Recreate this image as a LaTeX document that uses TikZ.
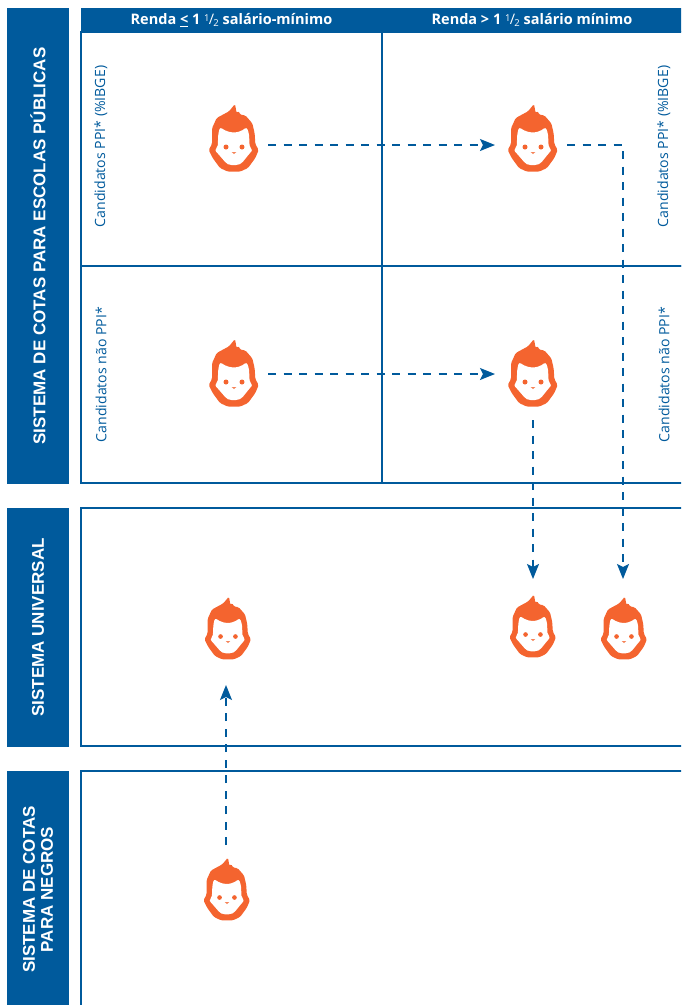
\documentclass[tikz,border=0pt]{standalone}
\usepackage{fontspec}
\setmainfont{Open Sans}
\newfontfamily\sidefont{Liberation Sans}
\usetikzlibrary{positioning,arrows.meta}
\definecolor{cotablue}{HTML}{005A9C}
\definecolor{faceorange}{HTML}{F4642F}
\tikzset{sidebar/.style={fill=cotablue,draw=none,outer sep=0pt,inner sep=0pt,minimum height=62pt,text=white,rotate=90,align=center},
	 headbar/.style={fill=cotablue,draw=none,outer sep=0pt,inner sep=0pt,minimum height=24pt,text=white},
	 cell/.style={draw=cotablue,line width=1.4pt,outer sep=0pt,inner sep=0pt},
	 sidetext/.style={text=cotablue,rotate=90,inner sep=0pt,font=\fontsize{14.1}{15}\selectfont},
	 facebox/.style={inner sep=0pt,outer sep=0pt,minimum width=68pt,minimum height=92pt},
	 flow/.style={cotablue,line width=1.3pt,dash pattern=on 8pt off 7.5pt,-{Stealth[length=15pt,width=12pt,inset=3pt,sep=0pt]}},
	 pics/face/.style={code={
		\begin{scope}[x=.3333pt,y=-.3333pt]
		\fill[faceorange,rounded corners=1.5pt] (3,-108) -- (8,-80) -- (14,-88) -- (18,-76) -- (34,-74) -- (55,-50) -- (62,-20) -- (64,12) -- (74,30) -- (64,54) -- (42,84) -- (18,95) -- (-18,95) -- (-42,84) -- (-64,54) -- (-76,30) -- (-66,12) -- (-66,-35) -- (-52,-66) -- (-15,-86) -- cycle;
		\fill[white,rounded corners=2pt] (-42,-38) -- (-22,-26) -- (0,-22) -- (20,-26) -- (38,-38) -- (45,-20) -- (47,22) -- (56,30) -- (47,40) -- (23,70) -- (12,75) -- (-14,75) -- (-23,70) -- (-49,40) -- (-58,30) -- (-49,22) -- (-47,-20) -- cycle;
		\fill[faceorange] (-24,21) circle (7.5) (24,21) circle (7.5);
		\fill[faceorange!80] (-7,36) -- (7,36) -- (0,42) -- cycle;
		\end{scope}}}
	 }
\newcommand{\umeio}{\raisebox{3.5pt}{\fontsize{9.5}{9}\mdseries\selectfont 1}\kern-.6pt{\fontsize{14.5}{14}\mdseries\selectfont /}\kern-.8pt\raisebox{-2pt}{\fontsize{9.5}{9}\mdseries\selectfont 2}}
\newcommand{\headfont}{\fontsize{14.5}{15}\bfseries\selectfont}
\newcommand{\barfont}{\sidefont\fontsize{17}{18}\bfseries\selectfont}
\begin{document}
\begin{tikzpicture}[x=1pt,y=-1pt] % coordinates read as pixels of the picture
	\clip (0,0) rectangle (681,1005);
	\node[sidebar,minimum width=476pt,font=\barfont] (bar1) at (38,246) {SISTEMA DE COTAS PARA ESCOLAS PÚBLICAS};
	\node[sidebar,minimum width=239pt,font=\barfont] (bar2) at (38,627.5) {SISTEMA UNIVERSAL};
	\node[sidebar,minimum width=250pt,font=\barfont] (bar3) at (38,896) {};
	\node[font=\barfont,text=white,rotate=90,align=center,inner sep=0pt] (bar3t) at (38,889.5) {SISTEMA DE COTAS\\PARA NEGROS};
	\node[cell,minimum width=301pt,minimum height=234pt] (c1) at (231.5,149) {};
	\node[cell,minimum width=320pt,minimum height=234pt] (c2) [right=0pt of c1] {};
	\node[cell,minimum width=301pt,minimum height=217pt] (c3) [below=0pt of c1] {};
	\node[cell,minimum width=320pt,minimum height=217pt] (c4) [below=0pt of c2] {};
	\node[headbar,minimum width=301pt,font=\headfont] (h1) at (231.5,20) {Renda \underline{<} 1 \umeio{} salário-mínimo};
	\node[headbar,minimum width=300pt,font=\headfont] (h2) [right=0pt of h1] {Renda > 1 \umeio{} salário mínimo};
	\node[cell,minimum width=620pt,minimum height=238pt,anchor=north west] (univ) at (81,508) {};
	\node[cell,minimum width=620pt,minimum height=250pt,anchor=north west] (negros) at (81,771) {};
	\node[sidetext] (t1) at (101,146.5) {Candidatos PPI* (\%IBGE)};
	\node[sidetext] (t2) at (664,146.5) {Candidatos PPI* (\%IBGE)};
	\node[sidetext] (t3) at (101,374.5) {Candidatos não PPI*};
	\node[sidetext] (t4) at (664,374.5) {Candidatos não PPI*};
	\pic at (234,140) {face};
	\pic at (533,140) {face};
	\pic at (234,375) {face};
	\pic at (533,375) {face};
	\pic[scale=.93] at (228,630) {face};
	\pic[scale=.93] at (533,628) {face};
	\pic[scale=.93] at (624,630) {face};
	\pic[scale=.93] at (227,891) {face};
	\node[facebox] (f1) at (234,145) {};
	\node[facebox] (f2) at (533,145) {};
	\node[facebox] (f3) at (234,374) {};
	\node[facebox] (f4) at (533,374) {};
	\node[facebox] (f5) at (533,625) {};
	\node[facebox] (f6) at (623,625) {};
	\node[facebox] (f7) at (226,639) {};
	\node[facebox] (f8) at (226,891) {};
	\draw [flow,shorten >=4pt] (f1.east) to (f2.west);
	\draw [flow,shorten >=4pt] (f3.east) to (f4.west);
	\draw [flow] (f2.east) -| (f6.north);
	\draw [flow] (f4.south) to (f5.north);
	\draw [flow] (f8.north) to (f7.south);
\end{tikzpicture}
\end{document}
